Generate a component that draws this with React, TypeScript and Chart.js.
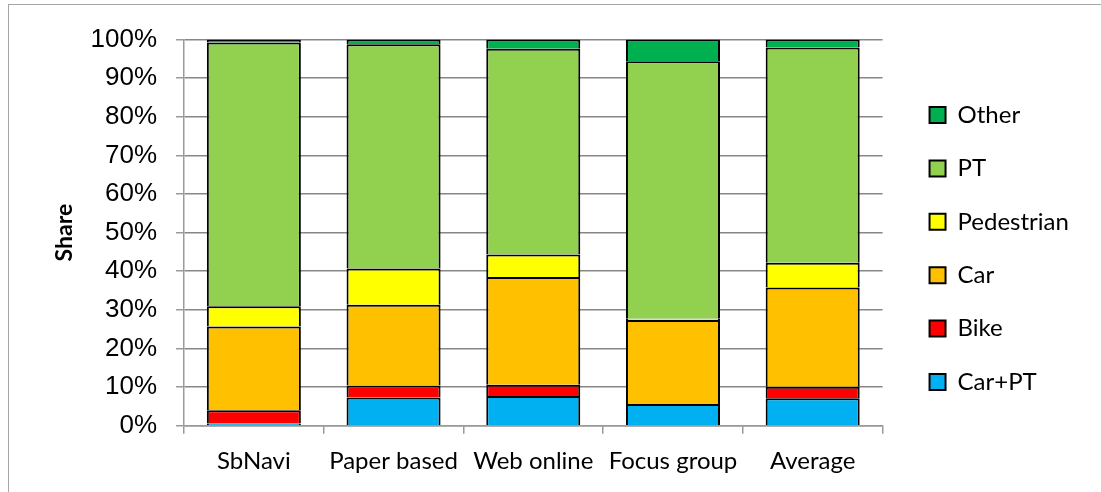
import React, { useEffect, useRef } from "react";
import { Chart, registerables } from "chart.js";

Chart.register(...registerables);

const categories = ["SbNavi", "Paper based", "Web online", "Focus group", "Average"];
const seriesNames = ["Car+PT", "Bike", "Car", "Pedestrian", "PT", "Other"];
const carPt = [0.6, 7.3, 7.7, 5.6, 7.1];
const bike = [3.4, 3.1, 2.9, 0, 3.0];
const car = [21.7, 20.9, 27.9, 21.8, 25.7];
const pedestrian = [5.2, 9.4, 5.8, 0.3, 6.4];
const pt = [68.3, 58.1, 53.3, 66.7, 55.7];
const other = [0.8, 1.2, 2.4, 5.6, 2.1];
const seriesColors = ["#00B0F0", "#FF0000", "#FFC000", "#FFFF00", "#92D050", "#00B050"];
const yTitle = "Share";

const W = 1092;
const H = 487;
const AREA_LEFT = 175;
const AREA_RIGHT = 873;
const AREA_TOP = 34.5;
const AREA_BOTTOM = 420.7;
const LEG_FONT = 24;
const LEG_PAD = 29.4;
const LEG_BOX = 16;
const LEG_GAP = 17.6;

export default function App() {
  const ref = useRef<HTMLCanvasElement | null>(null);

  useEffect(() => {
    if (!ref.current) return;
    const m = document.createElement("canvas").getContext("2d")!;
    m.font = `${LEG_FONT}px Lato`;
    const maxW = Math.max(...seriesNames.map((s) => m.measureText(s).width));
    const legendWidth = LEG_PAD + LEG_BOX + LEG_FONT / 2 + maxW + 10;
    const padRight = Math.max(0, W - AREA_RIGHT - LEG_GAP - legendWidth);

    const values = [carPt, bike, car, pedestrian, pt, other];

    const chart = new Chart(ref.current, {
      type: "bar",
      data: {
        labels: categories,
        datasets: seriesNames.map((name, i) => ({
          label: name,
          data: values[i],
          backgroundColor: seriesColors[i],
          borderColor: "#000",
          borderWidth: 2,
          categoryPercentage: 1,
          barPercentage: 0.673,
          yAxisID: "y",
          xAxisID: "x",
        })),
      },
      options: {
        responsive: false,
        animation: false,
        devicePixelRatio: 1,
        layout: { padding: { left: 0, top: 0, bottom: 0, right: padRight } },
        plugins: {
          tooltip: { enabled: false },
          legend: {
            position: "right",
            reverse: true,
            align: "center",
            labels: {
              font: { family: "Lato", size: LEG_FONT },
              color: "#000",
              boxWidth: LEG_BOX,
              boxHeight: LEG_BOX,
              padding: LEG_PAD,
            },
          },
        },
        scales: {
          x: {
            stacked: true,
            grid: {
              display: true,
              drawOnChartArea: false,
              drawTicks: true,
              tickLength: 8,
              offset: true,
              color: "#9a9a9a",
              lineWidth: 1.5,
            },
            border: { display: true, color: "#9a9a9a", width: 1.5 },
            ticks: {
              font: { family: "Lato", size: 24 },
              color: "#000",
              padding: 13,
              maxRotation: 0,
              autoSkip: false,
            },
            afterFit: (s: any) => {
              s.height = H - AREA_BOTTOM;
            },
          },
          y: {
            stacked: true,
            min: 0,
            max: 100,
            title: {
              display: true,
              text: yTitle,
              color: "#000",
              font: { family: "Lato", size: 23, weight: "bold" },
              padding: { top: 42, bottom: 0 },
            },
            grid: {
              color: "#878787",
              lineWidth: 1.5,
              drawTicks: true,
              tickLength: 8,
              tickColor: "#9a9a9a",
            },
            border: { display: true, color: "#9a9a9a", width: 1.5 },
            ticks: {
              stepSize: 10,
              font: { family: "'Liberation Sans', Arial", size: 26 },
              color: "#000",
              padding: 19,
              callback: (v: any) => v + "%",
            },
            afterFit: (s: any) => {
              s.width = AREA_LEFT;
              s.paddingTop = AREA_TOP;
            },
          },
          y2: {
            position: "right",
            display: true,
            grid: { display: false, drawTicks: false },
            border: { display: false },
            ticks: { display: false },
            afterFit: (s: any) => {
              s.width = LEG_GAP;
            },
          },
        },
      },
    } as any);
    return () => chart.destroy();
  }, []);

  return (
    <div
      style={{
        position: "absolute",
        left: 8,
        top: 4,
        width: W + 1,
        height: H + 1,
        boxSizing: "border-box",
        borderTop: "1px solid #a6a6a6",
        borderLeft: "1px solid #a6a6a6",
        background: "#fff",
      }}
    >
      <canvas ref={ref} width={W} height={H} style={{ display: "block", width: W, height: H }} />
    </div>
  );
}
